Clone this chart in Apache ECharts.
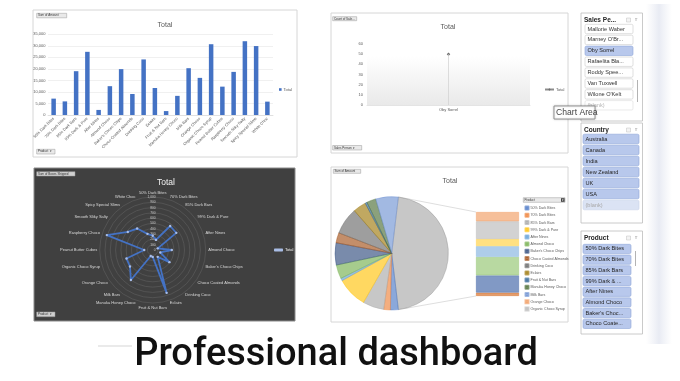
<!DOCTYPE html>
<html><head><meta charset="utf-8">
<script src="https://cdn.jsdelivr.net/npm/echarts@6.0.0/dist/echarts.min.js"></script>
<style>html,body{margin:0;padding:0;background:#fff}#c{width:680px;height:381px}</style>
</head><body><div id="c"></div>
<script>
// ---------- DATA ----------
const products = ["50% Dark Bites","70% Dark Bites","85% Dark Bars","99% Dark & Pure","After Nines","Almond Choco","Baker's Choco Chips","Choco Coated Almonds","Drinking Coco","Eclairs","Fruit & Nut Bars","Manuka Honey Choco","Milk Bars","Orange Choco","Organic Choco Syrup","Peanut Butter Cubes","Raspberry Choco","Smooth Sliky Salty","Spicy Special Slims","White Choc"];
const amounts = [7100,5900,19000,27400,2200,12500,19900,9100,24100,11700,1700,8300,20300,16100,30700,12300,18700,32000,29900,5800];
const boxes = [270,200,560,550,100,360,150,390,160,850,130,120,700,530,520,160,910,580,500,320];
const lineCats = ["Oby Sorrel"];
const lineVals = [50];
const barTicks = [0,5000,10000,15000,20000,25000,30000,35000];
const lineTicks = [0,10,20,30,40,50,60];
const radarTicks = [0,100,200,300,400,500,600,700,800,900,1000];
const salesPeople = ["Mallorie Waber","Marney O'Br...","Oby Sorrel","Rafaelita Bla...","Roddy Spee...","Van Tuxwell","Wilone O'Kelt","(blank)"];
const countries = ["Australia","Canada","India","New Zealand","UK","USA","(blank)"];
const productSlicer = ["50% Dark Bites","70% Dark Bites","85% Dark Bars","99% Dark & ...","After Nines","Almond Choco","Baker's Choc...","Choco Coate..."];
const pieLegendNames = products.slice(0,15);
const mainCount = 13; // slices kept in the main pie

// ---------- STYLE ----------
const FONT = 'Liberation Sans';
const pal = ['#4472C4','#ED7D31','#A5A5A5','#FFC000','#5B9BD5','#70AD47','#264478','#9E480E','#636363','#997300','#255E91','#43682B','#698ED0','#F1975A','#B7B7B7','#FFCD33','#7CAFDD','#8CC168','#335AA1','#D26012'];
const PIE = {cx:391.7, cy:253.3, r:56.7};
const STACK = {x:476, y:212, w:43, h:84};

const total = amounts.reduce((a,b)=>a+b,0);
const otherSum = amounts.slice(mainCount).reduce((a,b)=>a+b,0);
const otherAngle = 360*otherSum/total;

// radar goes counter-clockwise in ECharts: reorder so the first product is on top and the rest run clockwise
const radarOrder = [0].concat(products.map((_,i)=>i).slice(1).reverse());

const chart = echarts.init(document.getElementById('c'), null, {renderer:'canvas'});

// ---------- graphic helpers ----------
const G = [];
function rect(x,y,w,h,style,z,r){ G.push({type:'rect', silent:true, z:z||0, shape:{x,y,width:w,height:h,r:r||0}, style}); }
function txt(x,y,t,style,z){ G.push({type:'text', silent:true, z:z||0, x, y, style:Object.assign({text:t, fontFamily:FONT, verticalAlign:'middle'}, style)}); }
function btn(x,y,w,h,t,dark){
  rect(x,y,w,h,{fill: dark?'#d0d0d0':'#e9e9e9', stroke:'#9a9a9a', lineWidth:0.5},8);
  txt(x+1.2,y+h/2,t,{fontSize:3,fill:'#333'},9);
}
// panel backgrounds
rect(33,10,264,147,{fill:'#fff',stroke:'#d6d6d6',lineWidth:1},-5);
rect(331,13,237,140,{fill:'#fff',stroke:'#d6d6d6',lineWidth:1},-5);
rect(34,168,261,153,{fill:'#404040',stroke:'#8a8a8a',lineWidth:1},-5);
rect(331,167,237,155,{fill:'#fff',stroke:'#d6d6d6',lineWidth:1},-5);
// right soft shade
rect(646,4,26,340,{fill:new echarts.graphic.LinearGradient(0,0,1,0,[{offset:0,color:'rgba(220,224,236,0)'},{offset:0.5,color:'rgba(214,219,234,0.55)'},{offset:1,color:'rgba(220,224,236,0)'}])},-6);
// buttons
btn(36.7,13.3,30,4.5,'Sum of Amount');
btn(36.7,149.3,18.3,4.7,'Product  \u25BE');
btn(332.7,16.7,24,4,'Count of Sale...');
btn(332.7,145.5,29,4.5,'Sales Person  \u25BE');
btn(36.7,171.7,38.3,4.3,'Sum of Boxes Shipped',true);
btn(36.7,312,18.3,4.7,'Product  \u25BE',true);
btn(333.3,169.3,27.4,4,'Sum of Amount');
// pie legend header
rect(523.3,197.7,41.7,4.6,{fill:'#e9e9e9',stroke:'#9a9a9a',lineWidth:0.5},8);
txt(524.5,200,'Product',{fontSize:3,fill:'#333'},9);
rect(561,198.2,3.6,3.6,{fill:'#444'},9);
txt(562.8,200,'\u25BE',{fontSize:3,fill:'#fff',align:'center'},10);

// pie-of-pie connectors
(function(){
  const a = otherAngle/2*Math.PI/180;
  const px = PIE.cx + PIE.r*Math.cos(a);
  G.push({type:'line', silent:true, z:1, shape:{x1:px,y1:PIE.cy-PIE.r*Math.sin(a),x2:STACK.x,y2:STACK.y}, style:{stroke:'#c8c8c8',lineWidth:0.6}});
  G.push({type:'line', silent:true, z:1, shape:{x1:px,y1:PIE.cy+PIE.r*Math.sin(a),x2:STACK.x,y2:STACK.y+STACK.h}, style:{stroke:'#c8c8c8',lineWidth:0.6}});
})();

// slicers
function slicer(x,y,w,h,title,items,o){
  rect(x,y,w,h,{fill:'#fff',stroke:'#bdbdbd',lineWidth:0.8},10);
  txt(x+3,y+7,title,{fontSize:6.5,fill:'#262626',fontWeight:'bold'},11);
  rect(x+w-16,y+5,4,4,{fill:'#f4f4f4',stroke:'#c0c0c0',lineWidth:0.5},11);
  txt(x+w-6,y+7,'\u2AEA',{fontSize:4.5,fill:'#8c8c8c',align:'center'},11);
  items.forEach((t,i)=>{
    const iy = o.top + i*o.step;
    const st = o.state(i,t);
    const fills = {sel:['#b8c8ec','#8fa6d8','#262626'], off:['#ffffff','#c9c9c9','#333'], blank:['#dbe3f4','#c9d3ea','#a8a8a8'], blankOff:['#ffffff','#dcdcdc','#b5b5b5']}[st];
    rect(o.ix,iy,o.iw,o.ih,{fill:fills[0],stroke:fills[1],lineWidth:0.6},11,1.5);
    txt(o.ix+2.5,iy+o.ih/2,t,{fontSize:5.6,fill:fills[2]},12);
  });
  if(o.scroll) G.push({type:'line',silent:true,z:12,shape:{x1:o.scroll[0],y1:o.scroll[1],x2:o.scroll[0],y2:o.scroll[2]},style:{stroke:'#a0a0a0',lineWidth:0.8}});
}
slicer(581,13,61.5,108,'Sales Pe...',salesPeople,{ix:585,iw:48,ih:9.4,top:24.3,step:10.9,scroll:[637.5,80,102],
  state:(i,t)=> t==='(blank)'?'blankOff':(t==='Oby Sorrel'?'sel':'off')});
slicer(581,123,61.5,100,'Country',countries,{ix:583,iw:56,ih:9.6,top:134.2,step:11,
  state:(i,t)=> t==='(blank)'?'blank':'sel'});
slicer(581,231,61.5,103,'Product',productSlicer,{ix:583,iw:48,ih:9.3,top:244.3,step:10.7,scroll:[635.5,251,266],
  state:()=> 'sel'});
// "Chart Area" tooltip
rect(554,106,41,13,{fill:'#fff',stroke:'#7a7a7a',lineWidth:0.7,shadowBlur:2,shadowColor:'rgba(0,0,0,0.25)'},20);
txt(556,112.7,'Chart Area',{fontSize:8.6,fill:'#444'},21);
// faint shadow line near bottom-left
G.push({type:'line',silent:true,z:-6,shape:{x1:98,y1:346,x2:132,y2:346},style:{stroke:'rgba(160,160,160,0.45)',lineWidth:1.2}});

// ---------- pie data ----------
const pieData = [{name:'Other', value:otherSum, itemStyle:{color:'#A5A5A5', borderColor:'#8a8a8a'}}]
  .concat(products.slice(0,mainCount).map((p,i)=>({name:p, value:amounts[i], itemStyle:{color:pal[i], borderColor:pal[i]}})));
const stackSeries = [];
for(let i=products.length-1;i>=mainCount;i--){
  stackSeries.push({type:'bar', name:products[i], stack:'other', xAxisIndex:2, yAxisIndex:2, barWidth:'100%',
    data:[amounts[i]], itemStyle:{color:pal[i], opacity:0.62, borderColor:pal[i], borderWidth:0.6}, silent:true});
}

const smallAxisLabel = {fontSize:4, color:'#595959', fontFamily:FONT};

const option = {
  animation:false,
  backgroundColor:'#fff',
  textStyle:{fontFamily:FONT},
  title:[
    {text:'Total', left:165, top:21.5, padding:0, textAlign:'center', textStyle:{fontSize:7, color:'#595959', fontWeight:'normal'}},
    {text:'Total', left:448, top:24, padding:0, textAlign:'center', textStyle:{fontSize:7, color:'#595959', fontWeight:'normal'}},
    {text:'Total', left:166, top:178.5, padding:0, textAlign:'center', textStyle:{fontSize:8.5, color:'#f2f2f2', fontWeight:'normal'}},
    {text:'Total', left:450, top:178, padding:0, textAlign:'center', textStyle:{fontSize:7, color:'#595959', fontWeight:'normal'}},
    {text:'Professional dashboard', left:336, top:336, padding:0, textAlign:'center', textStyle:{fontSize:38, color:'#111', fontWeight:500, fontFamily:'Roboto'}}
  ],
  legend:[
    {data:['Total1'], left:279, top:87.5, padding:0, icon:'rect', itemWidth:2.6, itemHeight:2.6, itemGap:0,
      formatter:()=> 'Total', textStyle:{fontSize:4, color:'#595959', padding:[0,0,0,-3]}, selectedMode:false},
    {data:['Total2'], left:544, top:87.5, padding:0, itemWidth:9, itemHeight:3, formatter:()=> 'Total',
      textStyle:{fontSize:4, color:'#595959', padding:[0,0,0,-3]}, selectedMode:false},
    {data:['Total3'], left:274, top:248, padding:0, itemWidth:9, itemHeight:3, formatter:()=> 'Total',
      textStyle:{fontSize:4, color:'#f2f2f2', padding:[0,0,0,-3]}, selectedMode:false},
    {data:pieLegendNames, orient:'vertical', left:524.5, top:205.6, padding:0, icon:'rect', itemWidth:3, itemHeight:3,
      itemGap:2.2, textStyle:{fontSize:3.6, color:'#595959', lineHeight:4, padding:[0,0,0,-3]}, selectedMode:false}
  ],
  grid:[
    {left:48, top:34.3, width:225, height:80.7, outerBoundsMode:'none', containLabel:false},
    {left:367, top:44, width:163, height:61, outerBoundsMode:'none', containLabel:false, show:true, borderWidth:0,
      backgroundColor:new echarts.graphic.LinearGradient(0,0,0,1,[{offset:0,color:'#ffffff'},{offset:0.2,color:'#ffffff'},{offset:1,color:'#e9e9e9'}])},
    {left:STACK.x, top:STACK.y, width:STACK.w, height:STACK.h, outerBoundsMode:'none', containLabel:false}
  ],
  xAxis:[
    {type:'category', gridIndex:0, data:products, axisTick:{show:false}, axisLine:{lineStyle:{color:'#d9d9d9', width:0.7}},
      axisLabel:Object.assign({interval:0, rotate:45, margin:3}, smallAxisLabel)},
    {type:'category', gridIndex:1, data:lineCats, axisTick:{show:false}, axisLine:{lineStyle:{color:'#d9d9d9', width:0.7}},
      axisLabel:Object.assign({margin:3}, smallAxisLabel)},
    {type:'category', gridIndex:2, data:[''], show:false}
  ],
  yAxis:[
    {type:'value', gridIndex:0, min:barTicks[0], max:barTicks[barTicks.length-1], interval:barTicks[1]-barTicks[0],
      axisLine:{show:false}, axisTick:{show:false}, splitLine:{lineStyle:{color:'#e6e6e6', width:0.6}},
      axisLabel:Object.assign({margin:2.5, formatter:v=>v.toLocaleString('en-US')}, smallAxisLabel)},
    {type:'value', gridIndex:1, min:lineTicks[0], max:lineTicks[lineTicks.length-1], interval:lineTicks[1]-lineTicks[0],
      axisLine:{show:false}, axisTick:{show:false}, splitLine:{show:false},
      axisLabel:Object.assign({margin:4}, smallAxisLabel)},
    {type:'value', gridIndex:2, min:0, max:otherSum, show:false, splitLine:{show:false}}
  ],
  radar:{
    center:[152.7,250], radius:53, startAngle:90, shape:'circle',
    splitNumber:radarTicks.length-1,
    indicator: radarOrder.map((k,j)=> j===0 ? {name:products[k], min:radarTicks[0], max:radarTicks[radarTicks.length-1], axisLabel:{show:true}} : {name:products[k], min:radarTicks[0], max:radarTicks[radarTicks.length-1]}),
    axisName:{color:'#d9d9d9', fontSize:4, fontFamily:FONT},
    nameGap:2.5,
    splitLine:{lineStyle:{color:'#5f5f5f', width:0.6}},
    splitArea:{show:false},
    axisLine:{show:false},
    axisTick:{show:false},
    axisLabel:{show:false, fontSize:3.3, color:'#c8c8c8', margin:-3, fontFamily:FONT}
  },
  series:[
    {type:'bar', name:'Total1', xAxisIndex:0, yAxisIndex:0, data:amounts, barWidth:4.5, itemStyle:{color:'#4472C4'}, silent:true},
    {type:'line', name:'Total2', xAxisIndex:1, yAxisIndex:1, data:lineVals, symbol:'diamond', symbolSize:3.5,
      itemStyle:{color:'#6d6d6d'}, lineStyle:{color:'#8c8c8c', width:1}, silent:true,
      markLine:{silent:true, symbol:'none', label:{show:false}, lineStyle:{color:'#d0d0d0', width:0.7, type:'solid'},
        data: lineCats.map((c,i)=>[{coord:[c,0]},{coord:[c,lineVals[i]]}])}},
    {type:'radar', name:'Total3', data:[{name:'Total3', value:radarOrder.map(k=>boxes[k])}], symbol:'circle', symbolSize:2.4,
      lineStyle:{color:'#4472C4', width:1.8}, itemStyle:{color:'#a9bde6', borderWidth:0}, silent:true},
    {type:'pie', name:'Pie', center:[PIE.cx,PIE.cy], radius:PIE.r, startAngle:otherAngle/2, clockwise:true,
      data:pieData, label:{show:false}, labelLine:{show:false}, silent:true,
      itemStyle:{opacity:0.62, borderWidth:0.6}}
  ].concat(stackSeries),
  graphic:{elements:G}
};
chart.setOption(option);
</script>
</body></html>
